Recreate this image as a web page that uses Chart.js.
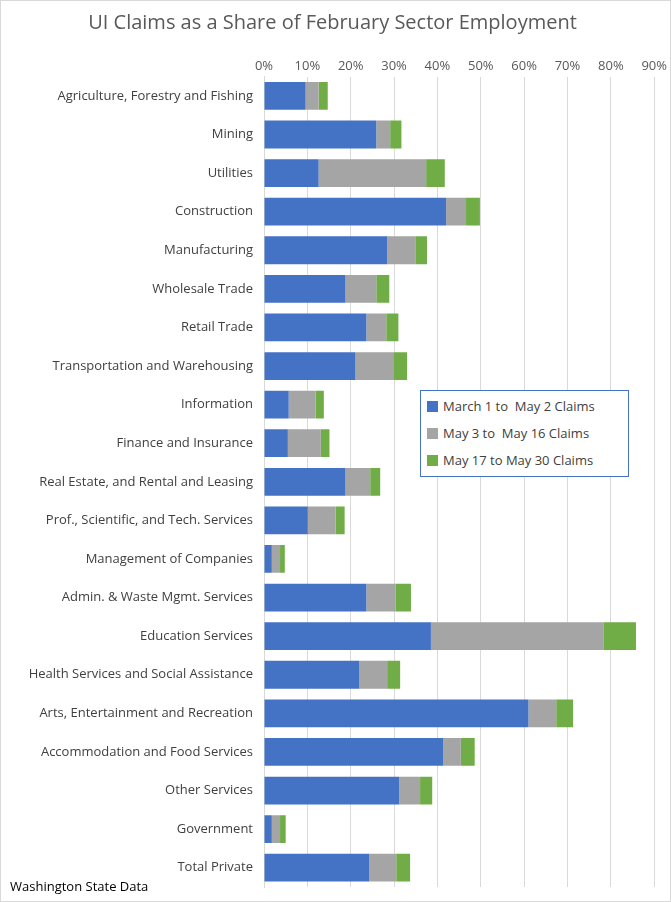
<!DOCTYPE html>
<html><head><meta charset="utf-8">
<script src="https://cdn.jsdelivr.net/npm/chart.js@4"></script>
<style>
body{margin:0;background:#fff;font-family:"Open Sans",sans-serif}
#wrap{position:relative;width:671px;height:902px;border:1px solid #d9d9d9;box-sizing:border-box}
#legend{position:absolute;left:419px;top:389px;width:195px;border:1px solid #4472c4;background:#fff;padding:2px 6px;font-size:13px;color:#404040}
#legend div{height:27px;line-height:27px;white-space:pre}
#legend span{display:inline-block;width:11px;height:11px;margin-right:5px;vertical-align:-1px}
#note{position:absolute;left:9px;top:876px;font-size:13px;color:#000}
</style></head><body>
<div id="wrap"><canvas id="chart" width="669" height="900"></canvas>
<div id="legend"></div>
<div id="note">Washington State Data</div></div>
<script>
const categories = ["Agriculture, Forestry and Fishing","Mining","Utilities","Construction","Manufacturing","Wholesale Trade","Retail Trade","Transportation and Warehousing","Information","Finance and Insurance","Real Estate, and Rental and Leasing","Prof., Scientific, and Tech. Services","Management of Companies","Admin. & Waste Mgmt. Services","Education Services","Health Services and Social Assistance","Arts, Entertainment and Recreation","Accommodation and Food Services","Other Services","Government","Total Private"];
const seriesNames = ["March 1 to  May 2 Claims","May 3 to  May 16 Claims","May 17 to May 30 Claims"];
const colors = ["#4472c4","#a5a5a5","#70ad47"];
const marchMay2 = [9.6,25.9,12.6,42.0,28.4,18.8,23.6,21.1,5.7,5.5,18.8,10.1,1.8,23.6,38.5,22.0,61.0,41.3,31.2,1.8,24.3];
const may3May16 = [3.0,3.2,24.8,4.6,6.5,7.1,4.6,8.7,6.2,7.6,5.7,6.4,1.9,6.7,39.9,6.4,6.4,4.1,4.8,1.9,6.2];
const may17May30 = [2.1,2.6,4.3,3.2,2.7,3.0,2.8,3.2,1.9,2.0,2.3,2.1,1.1,3.6,7.4,3.0,3.9,3.2,2.8,1.3,3.2];
const tickValues = [0,10,20,30,40,50,60,70,80,90];

const lg = document.getElementById("legend");
seriesNames.forEach((n,i)=>{ lg.innerHTML += `<div><span style="background:${colors[i]}"></span>${n}</div>`; });

new Chart(document.getElementById("chart"), {
  type: "bar",
  data: { labels: categories, datasets: [marchMay2, may3May16, may17May30].map((d,i)=>({label: seriesNames[i], data: d, backgroundColor: colors[i], barPercentage: 0.72, categoryPercentage: 1})) },
  options: {
    indexAxis: "y", responsive: false, animation: false,
    layout: { padding: { left: 4, right: 10, bottom: 14 } },
    plugins: {
      legend: { display: false },
      title: { display: true, text: "UI Claims as a Share of February Sector Employment", color: "#595959", font: { size: 20, family: "Open Sans", weight: "normal" }, padding: { top: 10, bottom: 20 } },
      tooltip: { enabled: false }
    },
    scales: {
      x: { position: "top", stacked: true, min: 0, max: 90,
        afterBuildTicks: a => { a.ticks = tickValues.map(v=>({value:v})); },
        ticks: { callback: v => v + "%", color: "#595959", font: { size: 13, family: "Open Sans" } },
        grid: { color: "#d9d9d9", drawTicks: false }, border: { display: false } },
      y: { stacked: true, afterFit: s => { s.width = 259; },
        ticks: { color: "#404040", font: { size: 13, family: "Open Sans" }, autoSkip: false },
        grid: { display: false }, border: { color: "#d9d9d9" } }
    }
  }
});
</script></body></html>
